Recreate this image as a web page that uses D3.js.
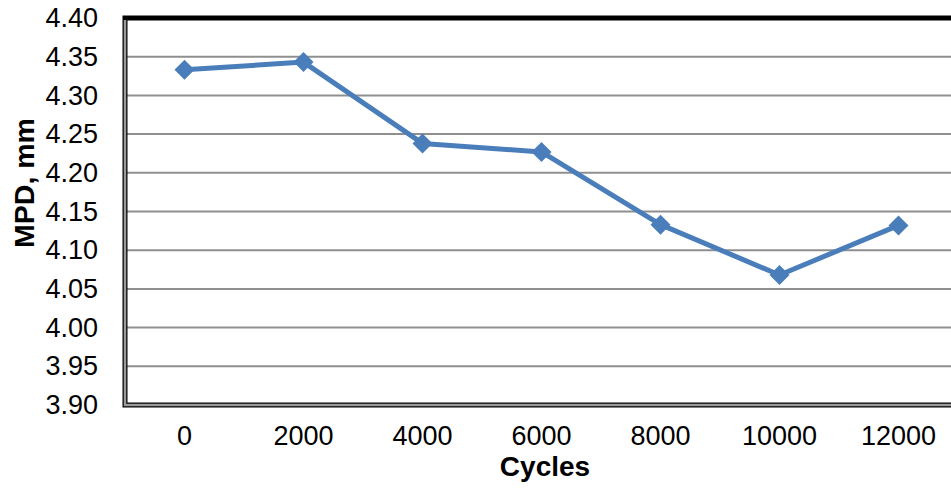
<!DOCTYPE html>
<html>
<head>
<meta charset="utf-8">
<script src="https://cdn.jsdelivr.net/npm/d3@7.9.0/dist/d3.min.js"></script>
<style>
  body { margin: 0; background: #fff; }
  text { font-family: Arial, "Liberation Sans", sans-serif; fill: #000; }
</style>
</head>
<body>
<svg width="951" height="491"></svg>
<script>
const cycles = ['0', '2000', '4000', '6000', '8000', '10000', '12000'];
const mpd = [4.333, 4.343, 4.238, 4.227, 4.133, 4.068, 4.132];
const yTicks = [3.90, 3.95, 4.00, 4.05, 4.10, 4.15, 4.20, 4.25, 4.30, 4.35, 4.40];

const svg = d3.select('svg');
const plotL = 125, plotT = 18, plotR = 958, plotB = 405;

let x = d3.scaleBand().domain(cycles).range([plotL, plotR]);
let y = d3.scaleLinear().domain([3.90, 4.40]).range([plotB, plotT]);

// gridlines
svg.append('g')
  .selectAll('line')
  .data(yTicks.slice(1, -1))
  .join('line')
  .attr('x1', plotL).attr('x2', plotR)
  .attr('y1', d => y(d)).attr('y2', d => y(d))
  .attr('stroke', '#8f8f8f')
  .attr('stroke-width', 2);

// frame: black with grey middle on left & bottom
svg.append('rect')
  .attr('x', plotL).attr('y', plotT)
  .attr('width', plotR - plotL).attr('height', plotB - plotT)
  .attr('fill', 'none').attr('stroke', '#000').attr('stroke-width', 5);
svg.append('path')
  .attr('d', `M${plotL},${plotT + 2}V${plotB}H${plotR}`)
  .attr('fill', 'none').attr('stroke', '#9a9a9a').attr('stroke-width', 2.5);

// y axis labels
let yAxis = d3.axisLeft(y).tickValues(yTicks).tickFormat(d3.format('.2f'))
  .tickSize(0).tickPadding(27);
svg.append('g')
  .attr('transform', `translate(${plotL},0)`)
  .call(yAxis)
  .call(g => g.select('.domain').remove())
  .selectAll('text')
  .attr('font-size', 27)
  .attr('font-family', 'Arial, "Liberation Sans", sans-serif')
  .attr('fill', '#000');

// x axis labels
let xAxis = d3.axisBottom(x).tickSize(0).tickPadding(21);
svg.append('g')
  .attr('transform', `translate(0,${plotB})`)
  .call(xAxis)
  .call(g => g.select('.domain').remove())
  .selectAll('text')
  .attr('font-size', 27)
  .attr('font-family', 'Arial, "Liberation Sans", sans-serif')
  .attr('fill', '#000');

// titles
svg.append('text')
  .attr('x', 545).attr('y', 476)
  .attr('text-anchor', 'middle')
  .attr('font-size', 28).attr('font-weight', 'bold')
  .text('Cycles');
svg.append('text')
  .attr('transform', 'translate(34,183) rotate(-90)')
  .attr('text-anchor', 'middle')
  .attr('font-size', 28.5).attr('font-weight', 'bold')
  .text('MPD, mm');

// series
const color = '#4a7ebb';
let pts = cycles.map((c, i) => [x(c) + x.bandwidth() / 2, y(mpd[i])]);
svg.append('path')
  .attr('d', d3.line()(pts))
  .attr('fill', 'none')
  .attr('stroke', color)
  .attr('stroke-width', 5)
  .attr('stroke-linejoin', 'round');

svg.append('g')
  .selectAll('path')
  .data(pts)
  .join('path')
  .attr('d', d3.symbol(d3.symbolSquare, 200))
  .attr('transform', d => `translate(${d[0]},${d[1]}) rotate(45)`)
  .attr('fill', color);
</script>
</body>
</html>
